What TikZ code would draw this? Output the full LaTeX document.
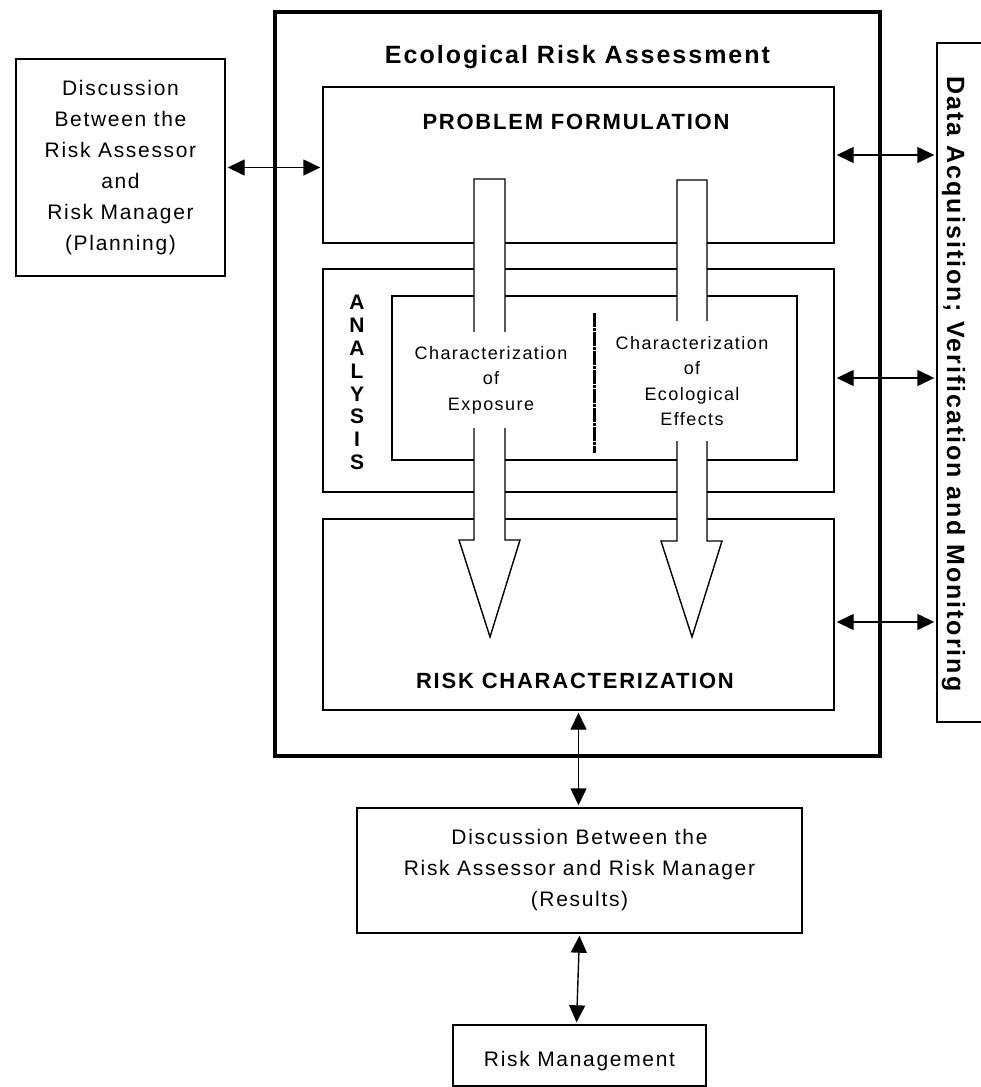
\documentclass[tikz,border=0pt]{standalone}
\usepackage{fontspec}
\setmainfont{Liberation Sans}[LetterSpace=8]
\usetikzlibrary{arrows.meta}

\begin{document}
\begin{tikzpicture}[x=1pt, y=-1pt,
    box/.style={draw, line width=1.4pt, inner sep=0pt},
    txt/.style={font=\fontsize{21}{31}\selectfont, align=center},
    head/.style={font=\bfseries\fontsize{22}{26}\selectfont},
    chartxt/.style={font=\fontsize{18}{25.5}\selectfont, align=center,
      fill=white, inner xsep=2pt, inner ysep=0pt},
    fat/.style={draw, line width=1.4pt, fill=white},
    link/.style={line width=1.4pt,
      {Triangle[length=17pt,width=16pt]}-{Triangle[length=17pt,width=16pt]},
      shorten <=2pt, shorten >=2pt}]
  \useasboundingbox (0,0) rectangle (981,1087);

  \node[box, line width=3.3pt, minimum width=605, minimum height=744] (era) at (577.5, 384) {};
  \node[anchor=base, font=\bfseries\fontsize{25}{30}\selectfont] (eratitle) at (577.5, 63) {Ecological Risk Assessment};

  \node[box, txt, minimum width=209, minimum height=217] (plan) at (120.5, 167.5)
    {Discussion\\Between the\\Risk Assessor\\and\\Risk Manager\\(Planning)};

  \node[box, minimum width=511, minimum height=156] (pf) at (578.5, 165) {};
  \node[head, anchor=base] (pftitle) at (576, 129.5) {PROBLEM FORMULATION};

  \node[box, minimum width=511, minimum height=223] (an) at (578.5, 380.5) {};
  \node[align=center, font=\bfseries\fontsize{21}{22.9}\selectfont] (antitle) at (357, 382.5)
    {A\\N\\A\\L\\Y\\S\\I\\S};
  \node[box, minimum width=405, minimum height=164] (inner) at (594.5, 378) {};
  \draw[line width=3pt, dash pattern=on 14pt off 1pt on 3pt off 1pt] (594, 313) -- (594, 453);

  \node[box, minimum width=511, minimum height=191] (rc) at (578.5, 614.5) {};
  \node[head, anchor=base] (rctitle) at (575, 688) {RISK CHARACTERIZATION};

  % hollow arrows
  \draw[fat] (474, 179) -- (505, 179) -- (505, 540) -- (520, 540) -- (490, 637)
    -- (459, 540) -- (474, 540) -- cycle;
  \draw[fat] (677, 180) -- (707, 180) -- (707, 541) -- (722, 541) -- (692, 637)
    -- (661, 541) -- (677, 541) -- cycle;

  \node[chartxt, minimum height=96] (expo) at (491, 380)
    {Characterization\\of\\Exposure};
  \node[chartxt, minimum height=120] (effects) at (692, 381)
    {Characterization\\of\\Ecological\\Effects};

  \node[box, minimum width=60, minimum height=679] (da) at (967, 382.5) {};
  \node[rotate=-90, anchor=base, font=\bfseries\fontsize{25}{30}\selectfont] (datitle) at (947, 384)
    {Data Acquisition; Verification and Monitoring};

  \node[box, txt, minimum width=445, minimum height=125] (res) at (579.5, 870.5)
    {Discussion Between the\\Risk Assessor and Risk Manager\\(Results)};
  \node[box, txt, minimum width=253, minimum height=61, text height=21pt, text depth=0pt] (rm)
    at (579.5, 1055.5) {Risk Management};

  \coordinate (pfr) at ([yshift=10pt]pf.east);
  \coordinate (anr) at ([yshift=2.5pt]an.east);
  \coordinate (rcr) at ([yshift=-7.5pt]rc.east);

  \draw[link] (plan.east) -- (plan.east -| pf.west);
  \draw[link] (pfr) -- (pfr -| da.west);
  \draw[link] (anr) -- (anr -| da.west);
  \draw[link] (rcr) -- (rcr -| da.west);
  \draw[link] (rc.south) -- (rc.south |- res.north);
  \draw[link] (res.south) -- ([xshift=-3pt]rm.north);
\end{tikzpicture}
\end{document}
